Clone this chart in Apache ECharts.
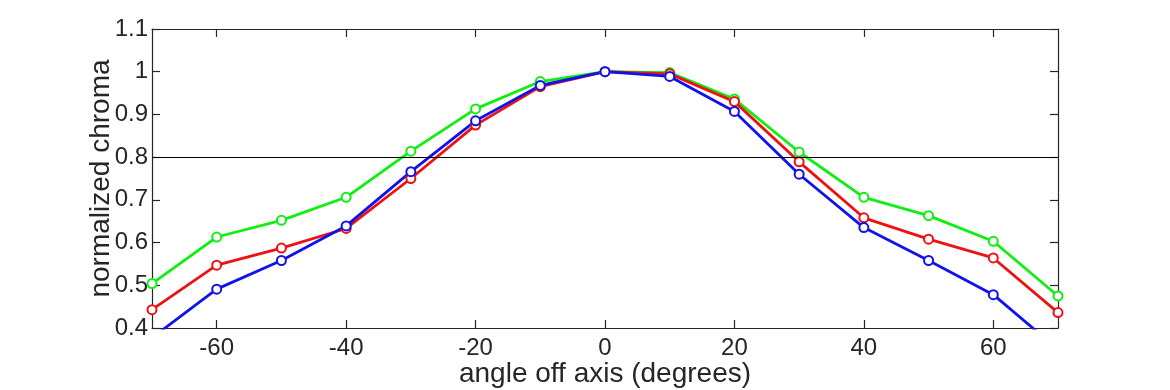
<!DOCTYPE html>
<html>
<head>
<meta charset="utf-8">
<script src="https://cdn.jsdelivr.net/npm/echarts@6/dist/echarts.min.js"></script>
<style>
html,body{margin:0;padding:0;background:#fff;}
#chart{width:1170px;height:390px;}
</style>
</head>
<body>
<div id="chart"></div>
<script>
const angles = [-70,-60,-50,-40,-30,-20,-10,0,10,20,30,40,50,60,70];
const greenVals = [0.504,0.613,0.652,0.706,0.814,0.913,0.977,1.0,0.998,0.936,0.812,0.706,0.663,0.603,0.475];
const redVals   = [0.443,0.547,0.587,0.633,0.750,0.875,0.965,1.0,0.995,0.930,0.789,0.658,0.608,0.564,0.436];
const blueVals  = [0.377,0.491,0.558,0.639,0.766,0.885,0.968,1.0,0.989,0.907,0.760,0.635,0.558,0.478,0.350];
const xTicks = [-60,-40,-20,0,20,40,60];
const threshold = 0.8;
const xName = 'angle off axis (degrees)';
const yName = 'normalized chroma';

const font = "'Liberation Sans', Arial, Helvetica, sans-serif";
const axisColor = '#262626';

function pairs(vals){ return angles.map((a,i)=>[a, vals[i]]); }

function mkSeries(name, vals, color, extra){
  return Object.assign({
    name: name,
    type: 'line',
    data: pairs(vals),
    symbol: 'emptyCircle',
    symbolSize: 9,
    clip: true,
    lineStyle: {color: color, width: 2.8},
    itemStyle: {color: color, borderColor: color, borderWidth: 2.4},
    emphasis: {disabled: true},
    animation: false
  }, extra || {});
}

const chart = echarts.init(document.getElementById('chart'), null, {renderer:'canvas'});
chart.setOption({
  backgroundColor: '#fff',
  animation: false,
  grid: {left: 152, right: 112, top: 29, bottom: 62, containLabel: false, outerBoundsMode: 'none'},
  xAxis: [{
    type: 'value', min: -70, max: 70, position: 'bottom',
    name: xName, nameLocation: 'middle', nameGap: 32, nameMoveOverlap: false,
    nameTextStyle: {fontFamily: font, fontSize: 28, color: axisColor},
    axisLine: {show: true, onZero: false, lineStyle: {color: axisColor, width: 1.2}},
    axisTick: {show: true, inside: true, length: 8, customValues: xTicks, lineStyle: {color: axisColor, width: 1.2}},
    axisLabel: {show: true, customValues: xTicks, margin: 8, fontFamily: font, fontSize: 24, color: axisColor},
    splitLine: {show: false}
  },{
    type: 'value', min: -70, max: 70, position: 'top',
    axisLine: {show: true, onZero: false, lineStyle: {color: axisColor, width: 1.2}},
    axisTick: {show: true, inside: true, length: 8, customValues: xTicks, lineStyle: {color: axisColor, width: 1.2}},
    axisLabel: {show: false},
    splitLine: {show: false}
  }],
  yAxis: [{
    type: 'value', min: 0.4, max: 1.1, interval: 0.1, position: 'left',
    name: yName, nameLocation: 'middle', nameGap: 37, nameRotate: 90, nameMoveOverlap: false,
    nameTextStyle: {fontFamily: font, fontSize: 28, color: axisColor},
    axisLine: {show: true, onZero: false, lineStyle: {color: axisColor, width: 1.2}},
    axisTick: {show: true, inside: true, length: 8, lineStyle: {color: axisColor, width: 1.2}},
    axisLabel: {show: true, margin: 4, fontFamily: font, fontSize: 24, color: axisColor,
      formatter: v => String(+v.toFixed(1))},
    splitLine: {show: false}
  },{
    type: 'value', min: 0.4, max: 1.1, interval: 0.1, position: 'right',
    axisLine: {show: true, onZero: false, lineStyle: {color: axisColor, width: 1.2}},
    axisTick: {show: true, inside: true, length: 8, lineStyle: {color: axisColor, width: 1.2}},
    axisLabel: {show: false},
    splitLine: {show: false}
  }],
  series: [
    mkSeries('green', greenVals, '#11ee11', {
      markLine: {
        silent: true, symbol: ['none','none'], label: {show: false},
        lineStyle: {color: '#000', width: 1.2, type: 'solid'},
        data: [{yAxis: threshold}],
        animation: false
      }
    }),
    mkSeries('red', redVals, '#ee1111'),
    mkSeries('blue', blueVals, '#1111ee')
  ]
});
</script>
</body>
</html>
